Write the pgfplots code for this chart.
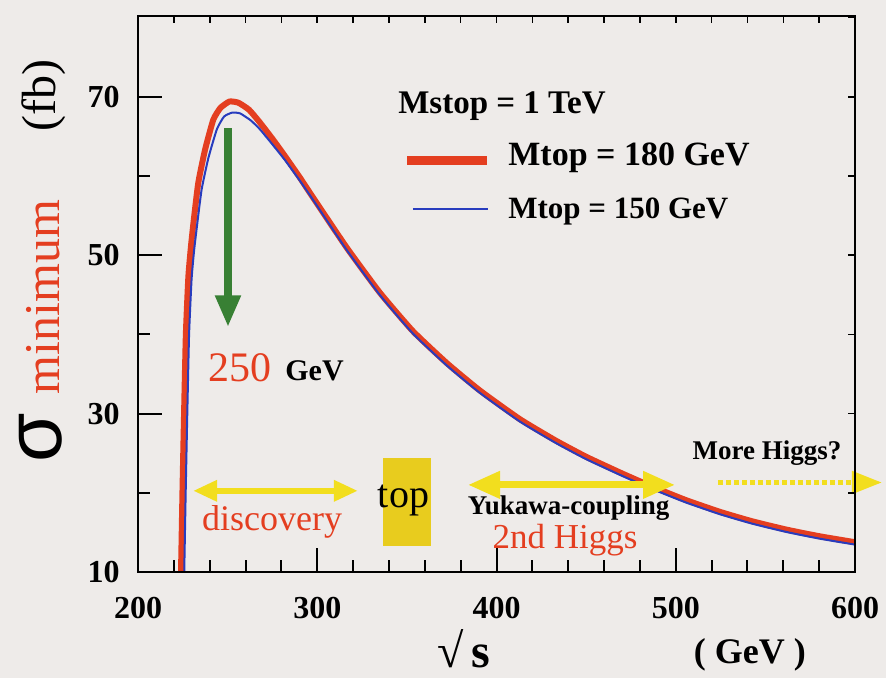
\documentclass[border=0pt]{standalone}
\usepackage{fontspec}
\setmainfont{Liberation Serif}
\newfontfamily\sansgr{Liberation Sans}
\usepackage{pgfplots}
\pgfplotsset{compat=1.18}
\usetikzlibrary{arrows.meta}
\definecolor{bg}{RGB}{238,235,233}
\definecolor{cred}{RGB}{228,62,32}
\definecolor{cblue}{RGB}{40,60,190}
\definecolor{ayel}{RGB}{242,222,30}
\definecolor{tyel}{RGB}{232,204,30}
\definecolor{cgreen}{RGB}{56,128,52}
\newcommand{\fs}[1]{\fontsize{#1}{#1}\selectfont}
\begin{document}
\begin{tikzpicture}
\fill[bg] (-69pt,-53pt) rectangle (374pt,286pt);
\begin{axis}[
  at={(0,0)}, anchor=south west,
  scale only axis, width=358.5pt, height=278pt,
  xmin=200, xmax=600, ymin=10, ymax=80.2,
  axis line style={line width=1pt},
  tick style={line width=1pt, black},
  major tick length=12pt, minor tick length=6pt,
  tick align=inside, tick pos=left,
  xtick={200,300,400,500,600}, minor xtick={220,240,...,580},
  ytick={10,30,50,70}, minor ytick={20,40,60},
  /pgf/number format/assume math mode=true,
  ticklabel style={font=\fs{16}\bfseries},
  xticklabel style={inner sep=0pt, yshift=-12.5pt},
  yticklabel style={inner sep=0pt, xshift=-9pt},
  clip=false,
]
% Mtop = 180 GeV (red, thick)
\addplot[cred, line width=3pt, smooth, tension=0.3] coordinates {
(224,10) (224.8,20) (225.7,30) (226.7,40) (228.1,47.3) (229.5,51) (230.9,54) (233.6,59.1)
(237.4,63.3) (242,67.1) (246,68.6) (251,69.4) (256,69.25) (262,68.35) (268,66.75)
(275.3,64.6) (282,62.5) (290,59.9) (297.6,57.3) (316.6,50.9) (335,45.25) (353.4,40.4)
(372.4,36.35) (390.8,32.9) (413,29.3) (433,26.6) (450,24.55) (469,22.55) (480,21.45)
(491,20.4) (506,19.05) (525,17.57) (543,16.38) (562,15.34) (580.5,14.5) (600,13.76)
};
% Mtop = 150 GeV (blue, thin)
\addplot[cblue, line width=1pt, smooth, tension=0.3] coordinates {
(225.8,10) (226.6,20) (227.5,30) (228.5,40) (229.9,47) (231.3,50.6) (232.8,53.5) (235.5,58.3)
(239.3,62.3) (244,65.9) (248,67.5) (252.5,68.0) (257,67.9) (263,67.0) (268,65.9)
(275.3,63.9) (282,62.0) (290,59.5) (297.6,57.0) (316.6,50.6) (335,44.95) (353.4,40.1)
(372.4,36.05) (390.8,32.6) (413,29.0) (433,26.3) (450,24.25) (469,22.25) (480,21.15)
(491,20.1) (506,18.75) (525,17.27) (543,16.08) (562,15.04) (580.5,14.2) (600,13.46)
};
% green arrow
\draw[cgreen, line width=4pt, -{Triangle[length=16pt,width=12pt]}] (axis cs:250.2,66) -- (axis cs:250.2,40.9);
\node[anchor=base west, inner sep=0pt, text=cred, font=\fs{21}] at (axis cs:239.1,34.05) {250};
\node[anchor=base west, inner sep=0pt, font=\fs{15}\bfseries] at (axis cs:282,34.2) {GeV};
% legend
\node[anchor=base west, inner sep=0pt, font=\fs{16.5}\bfseries] at (axis cs:345,67.85) {Mstop = 1 TeV};
\draw[cred, line width=4.5pt] (axis cs:350.1,61.9) -- (axis cs:394.7,61.9);
\node[anchor=base west, inner sep=0pt, font=\fs{17}\bfseries] at (axis cs:406.4,61.3) {Mtop = 180 GeV};
\draw[cblue, line width=1pt] (axis cs:353.4,55.8) -- (axis cs:395.3,55.8);
\node[anchor=base west, inner sep=0pt, font=\fs{15.5}\bfseries] at (axis cs:406.4,54.6) {Mtop = 150 GeV};
% annotations
\draw[ayel, line width=3pt, {Triangle[length=12pt,width=10pt]}-{Triangle[length=12pt,width=10pt]}] (axis cs:230.7,20.25) -- (axis cs:322.7,20.25);
\node[anchor=base, inner sep=0pt, text=cred, font=\fs{18}] at (axis cs:274.8,15.3) {discovery};
\fill[tyel] (axis cs:336.7,13.3) rectangle (axis cs:363.5,24.4);
\node[anchor=base, inner sep=0pt, font=\fs{20}] at (axis cs:348.1,18.2) {top};
\draw[ayel, line width=3.5pt, {Triangle[length=16pt,width=13pt]}-{Triangle[length=16pt,width=13pt]}] (axis cs:384.1,21.0) -- (axis cs:499.6,21.0);
\node[anchor=base, inner sep=0pt, font=\fs{13.5}\bfseries] at (axis cs:440.2,17.2) {Yukawa-coupling};
\node[anchor=base, inner sep=0pt, text=cred, font=\fs{17.5}] at (axis cs:438.2,13.0) {2nd Higgs};
\node[anchor=base, inner sep=0pt, font=\fs{13.5}\bfseries] at (axis cs:550.9,24.2) {More Higgs?};
\draw[ayel, line width=2.5pt, dash pattern=on 2.5pt off 1.5pt, -{Triangle[length=15pt,width=11pt]}] (axis cs:523.6,21.3) -- (axis cs:615,21.3);
% axis labels
\node[rotate=90, inner sep=0pt, font=\sansgr\fs{40}] at (axis cs:146.0,27.0) {σ};
\node[rotate=90, inner sep=0pt, text=cred, font=\fs{25}] at (axis cs:147.0,44.7) {minimum};
\node[rotate=90, inner sep=0pt, font=\fs{24}] at (axis cs:147.6,70.1) {(fb)};
\node[anchor=base west, inner sep=0pt, font=\fs{24}\bfseries] at (axis cs:366.8,-2.1) {√\,s};
\node[anchor=base, inner sep=0pt, font=\fs{18}\bfseries] at (axis cs:541.4,-1.5) {( GeV )};
\end{axis}
\begin{axis}[
  at={(0,0)}, anchor=south west,
  scale only axis, width=358.5pt, height=278pt,
  xmin=200, xmax=600, ymin=10, ymax=80.2,
  axis line style={line width=1pt},
  tick style={line width=0.8pt, black},
  major tick length=3.5pt,
  tick align=inside, tick pos=right,
  xtick={200,220,...,600}, ytick={10,20,...,80},
  xticklabels={}, yticklabels={},
]
\end{axis}
\pgfresetboundingbox
\path[use as bounding box] (-69pt,-53pt) rectangle (374pt,286pt);
\end{tikzpicture}
\end{document}
